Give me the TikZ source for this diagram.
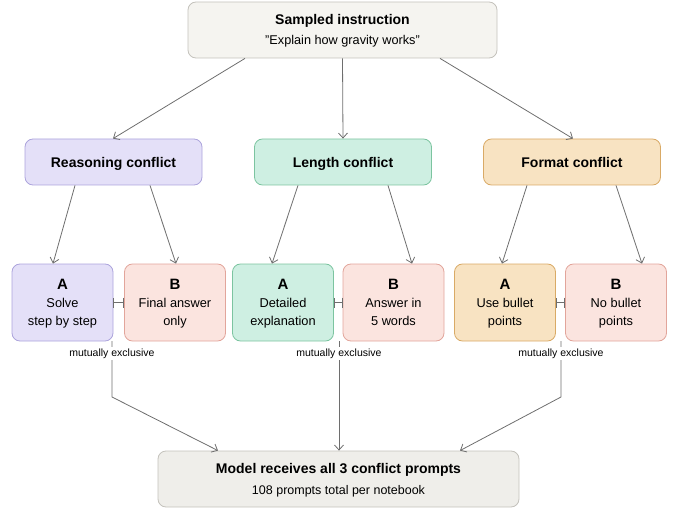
\documentclass[tikz,border=0pt]{standalone}
\usepackage{fontspec}
\setmainfont{Liberation Sans}
\usetikzlibrary{arrows.meta}
\definecolor{topfill}{HTML}{F5F4F0}
\definecolor{topdraw}{HTML}{C4C2BC}
\definecolor{lavfill}{HTML}{E4E0F8}
\definecolor{lavdraw}{HTML}{ACA4DC}
\definecolor{grnfill}{HTML}{CEEFE2}
\definecolor{grndraw}{HTML}{7CC4A0}
\definecolor{orgfill}{HTML}{F8E3C2}
\definecolor{orgdraw}{HTML}{D9AA66}
\definecolor{pnkfill}{HTML}{FBE4DF}
\definecolor{pnkdraw}{HTML}{E2A59B}
\definecolor{botfill}{HTML}{EFEEEA}
\definecolor{botdraw}{HTML}{C4C2BC}
\definecolor{linec}{HTML}{6E6E6E}
\tikzset{
  box/.style={rounded corners=8pt, line width=0.8pt, align=center, inner sep=0pt},
  conflict/.style={box, minimum width=177pt, minimum height=46pt, text depth=0pt, font=\fontsize{14}{16}\selectfont\bfseries},
  choice/.style={box, minimum width=101pt, minimum height=77pt, text depth=0pt, font=\fontsize{12.8}{18}\selectfont},
  arr/.style={draw=linec, line width=0.8pt, -{Straight Barb[length=5pt,width=9pt]}},
  excl/.style={draw=linec, line width=0.8pt, {Bar[width=10pt]}-{Bar[width=10pt]}},
  mxlabel/.style={fill=white, inner sep=1.5pt, font=\fontsize{10.5}{12}\selectfont}
}
\newcommand{\bigletter}[1]{{\fontsize{15}{18}\selectfont\bfseries #1}}
\begin{document}
\begin{tikzpicture}[x=1pt,y=-1pt]
\useasboundingbox (0,0) rectangle (678,508);

\node[box, fill=topfill, draw=topdraw, minimum width=309pt, minimum height=56pt] (top) at (342.5,30) {};
\node[font=\fontsize{14}{16}\selectfont\bfseries] (toptitle) at (342.5,21) {Sampled instruction};
\node[font=\fontsize{12.7}{14}\selectfont] (topsub) at (342.5,41) {\symbol{34}Explain how gravity works\symbol{34}};

\node[conflict, fill=lavfill, draw=lavdraw] (rc) at (113.5,162) {Reasoning conflict};
\node[conflict, fill=grnfill, draw=grndraw] (lc) at (343,162) {Length conflict};
\node[conflict, fill=orgfill, draw=orgdraw] (fc) at (572,162) {Format conflict};

\node[choice, fill=lavfill, draw=lavdraw] (ra) at (62.5,302.5) {\bigletter{A}\\Solve\\step by step};
\node[choice, fill=pnkfill, draw=pnkdraw] (rb) at (175,302.5) {\bigletter{B}\\Final answer\\only};
\node[choice, fill=grnfill, draw=grndraw] (la) at (283,302.5) {\bigletter{A}\\Detailed\\explanation};
\node[choice, fill=pnkfill, draw=pnkdraw] (lb) at (393.5,302.5) {\bigletter{B}\\Answer in\\5 words};
\node[choice, fill=orgfill, draw=orgdraw] (fa) at (505,302.5) {\bigletter{A}\\Use bullet\\points};
\node[choice, fill=pnkfill, draw=pnkdraw] (fb) at (616,302.5) {\bigletter{B}\\No bullet\\points};

\node[box, fill=botfill, draw=botdraw, minimum width=361pt, minimum height=56pt] (bot) at (338.5,479) {};
\node[font=\fontsize{14}{16}\selectfont\bfseries] (bottitle) at (338.5,470) {Model receives all 3 conflict prompts};
\node[font=\fontsize{12.5}{14}\selectfont] (botsub) at (338.5,491) {108 prompts total per notebook};

% top to conflicts
\draw[arr] (top.south -| 245,0) -- (rc.north -| 113,0);
\draw[arr] (top.south) -- (lc.north);
\draw[arr] (top.south -| 440,0) -- (fc.north -| 573,0);

% conflicts to choices
\draw[arr] (rc.south -| 75,0) -- (ra.north -| 53,0);
\draw[arr] (rc.south -| 150,0) -- (rb.north -| 176,0);
\draw[arr] (lc.south -| 298,0) -- (la.north -| 272,0);
\draw[arr] (lc.south -| 388,0) -- (lb.north -| 412,0);
\draw[arr] (fc.south -| 527,0) -- (fa.north -| 502,0);
\draw[arr] (fc.south -| 616,0) -- (fb.north -| 642,0);

% mutually exclusive bars
\draw[excl] (ra.east) -- (rb.west);
\draw[excl] (la.east) -- (lb.west);
\draw[excl] (fa.east) -- (fb.west);

% to bottom
\coordinate (m1) at (112,341);
\coordinate (m2) at (339,341);
\coordinate (m3) at (561,341);
\draw[arr] (m1) -- (112,397) -- (bot.north -| 218,0);
\draw[arr] (m2) -- (bot.north -| 339,0);
\draw[arr] (m3) -- (561,397) -- (bot.north -| 460,0);
\node[mxlabel] (mx1) at (112,353.5) {mutually exclusive};
\node[mxlabel] (mx2) at (339,353.5) {mutually exclusive};
\node[mxlabel] (mx3) at (561,353.5) {mutually exclusive};
\end{tikzpicture}
\end{document}
